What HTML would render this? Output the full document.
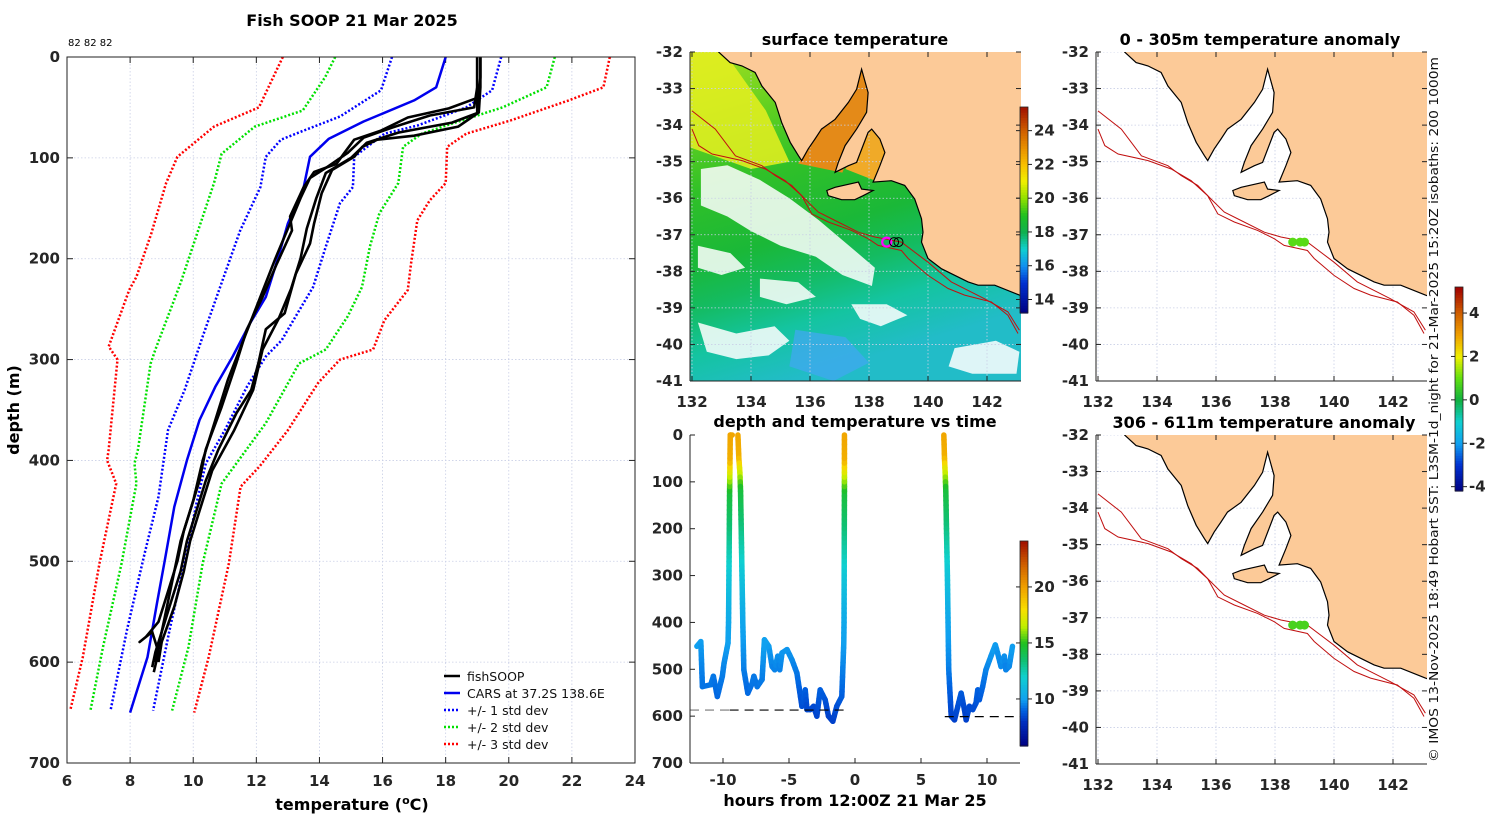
<!DOCTYPE html>
<html><head><meta charset="utf-8">
<style>
html,body{margin:0;padding:0;background:#fff;}
svg{display:block;font-family:"DejaVu Sans","Liberation Sans",sans-serif;}
.tl{font-size:15px;font-weight:bold;fill:#262626;}
.tt{font-size:16px;font-weight:bold;fill:#000;}
</style></head>
<body>
<svg id="fig" width="1500" height="820" viewBox="0 0 1500 820" xmlns="http://www.w3.org/2000/svg"></svg>
<script>
// ---------- DATA ----------
const tempTicks=[6,8,10,12,14,16,18,20,22,24];
const depthTicks=[0,100,200,300,400,500,600,700];
const carsDepth=[0,30,43,64,81,99,129,165,198,238,264,297,327,360,400,446,499,542,595,650];
const carsTemp=[18.0,17.7,17.0,15.4,14.3,13.7,13.5,13.0,12.7,12.3,11.8,11.25,10.7,10.2,9.8,9.4,9.1,8.85,8.55,8.0];
const sd1pD=[0,33,50,68,76,99,129,145,188,228,257,281,297,327,370,403,443,509,568,648];
const sd1pT=[19.76,19.47,18.65,17.1,16.06,15.1,15.06,14.65,14.2,13.8,13.25,12.8,12.3,11.7,11.0,10.4,10.1,9.67,9.25,8.73];
const sd1mD=[0,33,59,73,82,99,129,172,224,277,330,370,436,496,568,648];
const sd1mT=[16.3,15.95,14.65,13.5,12.78,12.3,12.13,11.49,10.9,10.3,9.73,9.2,8.9,8.43,7.9,7.38];
const sd2pD=[0,30,50,66,76,89,125,155,188,228,257,290,304,363,423,502,585,648];
const sd2pT=[21.46,21.2,19.8,18.2,17.24,16.65,16.5,15.9,15.6,15.35,14.9,14.2,13.35,12.3,10.9,10.3,9.85,9.33];
const sd2mD=[0,20,53,69,96,125,168,224,290,304,389,403,423,502,585,648];
const sd2mT=[14.5,14.18,13.47,11.95,10.9,10.66,10.2,9.6,8.8,8.65,8.25,8.14,8.2,7.73,7.14,6.74];
const sd3pD=[0,30,43,63,76,89,125,142,162,205,231,261,290,300,323,370,406,426,502,595,650];
const sd3pT=[23.2,23.0,21.9,20.05,18.65,18.05,18.0,17.5,17.1,16.9,16.8,16.06,15.7,14.65,13.96,13.0,12.1,11.5,11.13,10.49,10.03];
const sd3mD=[0,50,69,99,125,175,218,231,287,300,389,400,423,502,595,648];
const sd3mT=[12.84,12.08,10.66,9.5,9.14,8.67,8.2,7.97,7.32,7.6,7.32,7.27,7.56,7.03,6.5,6.1];
const profAD=[0,20,40,51,60,73,82,96,106,114,129,158,172,205,238,270,303,347,389,420,450,480,510,540,570,590,605];
const profAT=[19.1,19.1,19.05,18.1,16.8,15.95,15.1,14.77,14.54,13.83,13.5,13.07,13.13,12.65,12.2,11.7,11.37,10.9,10.4,10.2,9.9,9.6,9.4,9.2,9.0,8.8,8.7];
const profBD=[0,20,40,56,69,78,82,89,99,112,135,165,185,215,254,270,303,330,353,389,420,450,480,510,540,570,600];
const profBT=[19.0,19.0,19.0,19.0,18.4,17.0,15.83,15.36,15.1,14.4,14.07,13.83,13.7,13.25,12.9,12.3,12.07,11.84,11.37,10.8,10.4,10.1,9.8,9.6,9.3,9.0,8.8];
const profCD=[0,30,50,58,70,80,95,110,120,140,170,200,240,280,320,360,400,440,470,500,530,560,575,580,570,590,610];
const profCT=[19.0,19.0,18.9,17.5,16.3,15.4,14.9,14.2,13.7,13.4,13.0,12.6,12.1,11.6,11.1,10.7,10.3,10.0,9.7,9.5,9.2,8.9,8.5,8.3,8.7,8.9,8.75];
const profDD=[0,30,55,65,75,85,100,115,140,170,200,230,260,290,330,370,410,450,480,510,545,580,600];
const profDT=[19.1,19.1,19.05,18.2,16.5,15.5,15.0,14.2,13.9,13.6,13.4,13.1,12.7,12.2,11.9,11.3,10.6,10.2,9.9,9.7,9.4,9.0,8.9];

// time series (hours, depth, temperature) per segment
const seg1H=[-11.98,-11.68,-11.56,-10.93,-10.73,-10.43,-10.05,-9.92,-9.62,-9.58,-9.55,-9.52,-9.5,-9.48,-9.47,-9.45,-9.3];
const seg1D=[451,441,537,533,515,558,515,487,444,400,300,200,120,80,50,0,0];
const seg1T=[10.0,10.0,9.3,9.3,9.4,9.1,9.4,9.6,10.0,10.3,11.5,13.3,14.5,17.0,19.5,19.8,19.8];
const seg2H=[-8.87,-8.8,-8.72,-8.67,-8.62,-8.56,-8.5,-8.42,-8.12,-7.79,-7.66,-7.41,-7.04,-6.86,-6.53,-6.28,-6.08,-5.85,-5.7,-5.53,-5.15,-4.77,-4.4,-4.02,-3.77,-3.64,-3.39,-3.14,-2.89,-2.64,-2.26,-2.01,-1.68,-1.38,-1.0,-0.85,-0.83,-0.82,-0.81,-0.8,-0.8,-0.8,-0.8];
const seg2D=[0,50,80,120,200,300,400,501,551,530,515,537,522,437,451,494,501,472,501,465,458,480,508,579,544,586,586,579,600,544,565,600,611,579,558,444,400,300,200,120,80,50,0];
const seg2T=[19.8,19.5,17.0,14.5,13.3,11.5,10.3,9.5,9.1,9.3,9.4,9.3,9.4,10.1,10.0,9.6,9.5,9.8,9.5,9.8,9.9,9.7,9.4,8.6,9.0,8.5,8.5,8.6,8.4,9.0,8.8,8.4,8.3,8.6,8.9,10.0,10.3,11.5,13.3,14.5,17.0,19.5,19.8];
const seg3H=[6.73,6.78,6.83,6.88,6.93,7.0,7.05,7.1,7.29,7.54,7.79,8.04,8.29,8.42,8.67,8.92,9.17,9.3,9.42,9.67,9.92,10.3,10.63,10.8,11.06,11.31,11.43,11.68,11.93];
const seg3D=[0,50,80,120,200,300,400,500,600,608,579,551,586,608,579,586,572,544,565,537,501,472,448,465,494,472,501,494,451];
const seg3T=[19.8,19.5,17.0,14.5,13.3,11.5,10.3,9.5,8.4,8.3,8.6,8.9,8.5,8.3,8.6,8.5,8.7,9.0,8.8,9.1,9.5,9.8,10.0,9.8,9.6,9.8,9.5,9.6,10.0];
const bottomStartH=[-12.7,-9.5,6.8];
const bottomEndH=[-9.5,-0.8,12.5];
const bottomDepth=[587,587,601];
const hourTicks=[-10,-5,0,5,10];

const lonTicks=[132,134,136,138,140,142];
const latTicks=[-32,-33,-34,-35,-36,-37,-38,-39,-40,-41];
const sstTicks=[14,16,18,20,22,24];
const anomTicks=[-4,-2,0,2,4];
const tsTicks=[10,15,20];
const stationLon=[138.6,138.85,139.0];
const stationLat=[-37.2,-37.2,-37.2];
const anomTop=[0.9,0.9,0.9];
const anomBot=[0.7,0.7,0.7];

const coast=[[132.9,-31.9],[132.9,-32.0],[133.29,-32.29],[133.69,-32.38],[134.14,-32.56],[134.37,-32.93],[134.82,-33.38],[135.04,-33.93],[135.33,-34.47],[135.61,-34.84],[135.72,-34.97],[135.94,-34.65],[136.17,-34.38],[136.39,-34.11],[136.85,-33.84],[137.3,-33.38],[137.58,-33.02],[137.75,-32.47],[137.97,-33.11],[137.92,-33.65],[137.58,-34.11],[137.19,-34.56],[136.96,-35.02],[136.85,-35.29],[137.3,-35.11],[137.58,-35.02],[137.97,-34.2],[138.09,-34.11],[138.37,-34.38],[138.54,-34.75],[138.37,-35.11],[138.14,-35.56],[138.76,-35.52],[139.21,-35.65],[139.55,-36.02],[139.78,-36.56],[139.83,-36.93],[139.78,-37.2],[140.0,-37.65],[140.46,-37.93],[141.36,-38.29],[141.7,-38.38],[142.26,-38.38],[143.1,-38.65],[143.3,-38.7],[143.3,-31.9]];
const kangaroo=[[136.57,-35.79],[136.85,-35.7],[137.64,-35.56],[137.75,-35.75],[138.14,-35.79],[137.8,-35.93],[137.52,-36.04],[137.07,-36.04],[136.62,-35.93]];
const iso200=[[132,-33.61],[132.79,-34.11],[133.47,-34.84],[134.37,-35.11],[134.82,-35.38],[135.38,-35.65],[135.83,-36.02],[136.28,-36.38],[136.85,-36.61],[137.64,-36.93],[138.2,-37.06],[139.1,-37.2],[140.0,-37.75],[140.79,-38.29],[141.92,-38.75],[142.71,-39.11],[143.1,-39.61]];
const iso1000=[[132,-34.11],[132.23,-34.56],[132.68,-34.79],[133.7,-34.97],[134.48,-35.2],[135.16,-35.52],[135.72,-35.93],[136.06,-36.43],[136.62,-36.65],[137.41,-36.88],[137.98,-37.11],[138.31,-37.29],[139.1,-37.43],[139.33,-37.65],[140.0,-38.11],[140.68,-38.47],[141.24,-38.65],[142.15,-38.84],[142.71,-39.2],[143.05,-39.7]];
const clouds=[
 [[132.3,-35.2],[133.2,-35.1],[134.3,-35.5],[135.3,-36.0],[136.3,-36.6],[137.4,-37.35],[138.2,-37.9],[138.1,-38.4],[137.1,-38.1],[136.2,-37.6],[135.0,-37.3],[134.0,-36.9],[133.2,-36.5],[132.3,-36.2]],
 [[132.2,-37.3],[133.3,-37.5],[133.8,-37.9],[133.0,-38.1],[132.2,-37.9]],
 [[132.2,-39.4],[133.5,-39.7],[134.8,-39.5],[135.3,-39.9],[134.6,-40.3],[133.5,-40.4],[132.5,-40.2]],
 [[137.4,-38.9],[138.6,-38.9],[139.3,-39.2],[138.4,-39.5],[137.7,-39.3]],
 [[140.9,-40.1],[142.3,-39.9],[143.1,-40.2],[143.0,-40.8],[141.5,-40.8],[140.7,-40.6]],
 [[134.3,-38.2],[135.6,-38.3],[136.2,-38.7],[135.2,-38.9],[134.3,-38.7]]
];
const spencer=[[135.6,-35.05],[137.7,-32.3],[138.2,-33.0],[137.1,-35.3]];
const stVincent=[[137.2,-35.2],[138.1,-33.95],[138.75,-34.7],[138.3,-35.55]];

// colormap stop values and colours
const sstStopV=[13.2,15,16,17,18,19,20,21,22,23,24,25.4];
const sstStopC=['#000080','#0030d0','#1090f0','#10d0d0','#10b050','#20c020','#90e000','#f0f000','#f8c000','#e89000','#d06000','#a01000'];
const tsStopV=[5.8,8,9,10,12,13.5,15,16.5,18,20,22,24.1];
const tsStopC=['#000080','#0030c0','#0060e0','#10a0f0','#10d0d0','#10c070','#20c020','#c0f000','#f8e000','#f0a000','#d06000','#a01000'];
const anStopV=[-4.2,-3,-2,-1,0,1,2,3,4,5.2];
const anStopC=['#000080','#0030d0','#10a0f0','#10d0d0','#10b040','#60e010','#f0f000','#f0a000','#d06000','#a00000'];

// ---------- HELPERS ----------
const NS='http://www.w3.org/2000/svg';
const svg=document.getElementById('fig');
function mk(tag,attrs,parent,txt){const e=document.createElementNS(NS,tag);for(const k in attrs)e.setAttribute(k,attrs[k]);if(txt!==undefined)e.textContent=txt;(parent||svg).appendChild(e);return e;}
function grp(name){const g=mk('g',{});return g;}
function hex(c){return [parseInt(c.substr(1,2),16),parseInt(c.substr(3,2),16),parseInt(c.substr(5,2),16)];}
function cmap(v,SV,SC){if(v<=SV[0])return SC[0];if(v>=SV[SV.length-1])return SC[SC.length-1];
 for(let i=0;i<SV.length-1;i++){if(v<=SV[i+1]){const f=(v-SV[i])/(SV[i+1]-SV[i]);const a=hex(SC[i]),b=hex(SC[i+1]);return 'rgb('+a.map((x,k)=>Math.round(x+(b[k]-x)*f)).join(',')+')';}}}
function colorbar(name,x,y0,y1,SV,SC,ticks){
 const g=grp(name);const n=80;const vmin=SV[0],vmax=SV[SV.length-1];
 for(let i=0;i<n;i++){const yy=y1-(i+1)*(y1-y0)/n;const r=mk('rect',{x:x,y:yy,width:8,height:(y1-y0)/n+0.6,fill:cmap(vmin+(i+0.5)/n*(vmax-vmin),SV,SC)},g);}
 mk('rect',{x:x,y:y0,width:8,height:y1-y0,fill:'none',stroke:'#222','stroke-width':0.8},g);
 ticks.forEach(t=>{const yy=y1-(t-vmin)/(vmax-vmin)*(y1-y0);mk('line',{x1:x+8,x2:x+12,y1:yy,y2:yy,stroke:'#222'},g);mk('line',{x1:x-4,x2:x,y1:yy,y2:yy,stroke:'#222'},g);
  const tx=mk('text',{x:x+14,y:yy+5,class:'tl','font-size':'13'},g,String(t));});
}

// ---------- LEFT PROFILE PLOT ----------
const LX0=67,LX1=635,LY0=57,LY1=763;
const tx=t=>LX0+(t-6)/18*(LX1-LX0);
const dy=d=>LY0+d/700*(LY1-LY0);
(function(){
 const g=grp('profile-plot');
 const t1=mk('text',{x:352,y:26,class:'tt','text-anchor':'middle'},g,'Fish SOOP 21 Mar 2025');
 const t2=mk('text',{x:68,y:46,'font-size':'10',fill:'#000'},g,'82 82 82');
 tempTicks.forEach(t=>{mk('line',{x1:tx(t),x2:tx(t),y1:LY0,y2:LY1,stroke:'#c9cfe6','stroke-width':0.8,'stroke-dasharray':'1.5,2'},g);
  mk('line',{x1:tx(t),x2:tx(t),y1:LY0,y2:LY0+6,stroke:'#222'},g);mk('line',{x1:tx(t),x2:tx(t),y1:LY1,y2:LY1-6,stroke:'#222'},g);
  const l=mk('text',{x:tx(t),y:LY1+23,class:'tl','text-anchor':'middle'},g,String(t));});
 depthTicks.forEach(d=>{mk('line',{x1:LX0,x2:LX1,y1:dy(d),y2:dy(d),stroke:'#c9cfe6','stroke-width':0.8,'stroke-dasharray':'1.5,2'},g);
  mk('line',{x1:LX0,x2:LX0+6,y1:dy(d),y2:dy(d),stroke:'#222'},g);mk('line',{x1:LX1,x2:LX1-6,y1:dy(d),y2:dy(d),stroke:'#222'},g);
  const l=mk('text',{x:LX0-7,y:dy(d)+5,class:'tl','text-anchor':'end'},g,String(d));});
 function line(D,T,col,w,dash,name){const p=mk('polyline',{points:D.map((d,i)=>tx(T[i]).toFixed(1)+','+dy(d).toFixed(1)).join(' '),fill:'none',stroke:col,'stroke-width':w,'stroke-dasharray':dash||'none','stroke-linejoin':'round'},g);}
 line(sd3mD,sd3mT,'#ff0000',2.5,'2,2','minus-3-std-line');line(sd3pD,sd3pT,'#ff0000',2.5,'2,2','plus-3-std-line');
 line(sd2mD,sd2mT,'#00e000',2.5,'2,2','minus-2-std-line');line(sd2pD,sd2pT,'#00e000',2.5,'2,2','plus-2-std-line');
 line(sd1mD,sd1mT,'#0000ff',2.5,'2,2','minus-1-std-line');line(sd1pD,sd1pT,'#0000ff',2.5,'2,2','plus-1-std-line');
 line(carsDepth,carsTemp,'#0000ee',2.5,null,'cars-mean-line');
 line(profAD,profAT,'#000',2.6,null,'fishsoop-profile-a');line(profBD,profBT,'#000',2.6,null,'fishsoop-profile-b');
 line(profCD,profCT,'#000',2.6,null,'fishsoop-profile-c');line(profDD,profDT,'#000',2.6,null,'fishsoop-profile-d');
 mk('rect',{x:LX0,y:LY0,width:LX1-LX0,height:LY1-LY0,fill:'none',stroke:'#222','stroke-width':1},g);
 const yl=mk('text',{x:0,y:0,class:'tt',transform:'translate(19,410) rotate(-90)','text-anchor':'middle'},g,'depth (m)');
 const xl=mk('text',{x:352,y:810,class:'tt','text-anchor':'middle'},g);
 xl.innerHTML='temperature (<tspan dy="-6" font-size="11">o</tspan><tspan dy="6">C)</tspan>';
 const leg=grp('legend');g.appendChild(leg);
 const items=[['fishSOOP','#000',null],['CARS at 37.2S 138.6E','#0000ee',null],['+/- 1 std dev','#0000ff','2,2'],['+/- 2 std dev','#00e000','2,2'],['+/- 3 std dev','#ff0000','2,2']];
 const ly=[676,693,710,727,744];
 items.forEach((it,i)=>{mk('line',{x1:444,x2:460,y1:ly[i],y2:ly[i],stroke:it[1],'stroke-width':2.5,'stroke-dasharray':it[2]||'none'},leg);
  const t=mk('text',{x:467,y:ly[i]+5,'font-size':'12.5',fill:'#111'},leg,it[0]);});
})();

// ---------- MAPS ----------
function mapAxes(name,X0,Y0,title,titleX,isSST,anomVals){
 const W=331,H=329;
 const lx=l=>X0+2+29.5*(l-132);
 const ly=a=>Y0+(-32-a)/9*H;
 const g=grp(name);
 const cid=name+'-clip';
 const cp=mk('clipPath',{id:cid},g);mk('rect',{x:X0,y:Y0,width:W,height:H},cp);
 const inner=mk('g',{'clip-path':'url(#'+cid+')'},g);
 const pts=arr=>arr.map(p=>lx(p[0]).toFixed(1)+','+ly(p[1]).toFixed(1)).join(' ');
 if(isSST){
  const gid=name+'-grad';const defs=mk('defs',{},g);const lg=mk('linearGradient',{id:gid,x1:0,y1:0,x2:0.3,y2:1},defs);
  [[0,'#a8e020'],[0.22,'#60d020'],[0.4,'#30c028'],[0.6,'#1ab838'],[0.72,'#14bb60'],[0.85,'#14c4a0'],[1,'#22bcc8']].forEach(s=>mk('stop',{offset:s[0],'stop-color':s[1]},lg));
  const r=mk('rect',{x:X0,y:Y0,width:W,height:H,fill:'url(#'+gid+')'},inner);
  mk('polygon',{points:pts([[131.9,-31.9],[133.0,-31.9],[134.5,-33.6],[135.3,-35.0],[134,-35.2],[131.9,-34.6]]),fill:'#e8f020',opacity:0.85},inner);
  mk('polygon',{points:pts([[135.5,-39.6],[137.2,-39.8],[138,-40.5],[136.8,-41],[135.3,-40.6]]),fill:'#40a8f0',opacity:0.75},inner);
  clouds.forEach(c=>{const p=mk('polygon',{points:pts(c),fill:'#fff',opacity:0.85},inner);});
  mk('polygon',{points:pts(spencer),fill:'#e48a18'},inner);
  mk('polygon',{points:pts(stVincent),fill:'#f0aa28'},inner);
 }
 lonTicks.forEach(l=>mk('line',{x1:lx(l),x2:lx(l),y1:Y0,y2:Y0+H,stroke:'#c9cfe6','stroke-width':0.8,'stroke-dasharray':'1.5,2'},inner));
 latTicks.forEach(a=>mk('line',{x1:X0,x2:X0+W,y1:ly(a),y2:ly(a),stroke:'#c9cfe6','stroke-width':0.8,'stroke-dasharray':'1.5,2'},inner));
 const land=mk('polygon',{points:pts(coast),fill:'#fcca98',stroke:'#000','stroke-width':1.2},inner);
 const ki=mk('polygon',{points:pts(kangaroo),fill:'#fcca98',stroke:'#000','stroke-width':1.2},inner);
 [iso200,iso1000].forEach((iso,i)=>{const p=mk('polyline',{points:pts(iso),fill:'none',stroke:'#c01010','stroke-width':1},inner);});
 if(isSST){
  stationLon.forEach((l,i)=>{const c=mk('circle',{cx:lx(l),cy:ly(stationLat[i]),r:4.5,fill:'none',stroke:i?'#000':'#ff00ff','stroke-width':i?1:2.2},inner);});
 } else {
  stationLon.forEach((l,i)=>{const c=mk('circle',{cx:lx(l),cy:ly(stationLat[i]),r:4.5,fill:cmap(anomVals[i],anStopV,anStopC)},inner);});
 }
 lonTicks.forEach(l=>{mk('line',{x1:lx(l),x2:lx(l),y1:Y0+H,y2:Y0+H-5,stroke:'#222'},g);mk('line',{x1:lx(l),x2:lx(l),y1:Y0,y2:Y0+5,stroke:'#222'},g);
  const t=mk('text',{x:lx(l),y:Y0+H+26,class:'tl','text-anchor':'middle'},g,String(l));});
 latTicks.forEach(a=>{mk('line',{x1:X0,x2:X0+5,y1:ly(a),y2:ly(a),stroke:'#222'},g);mk('line',{x1:X0+W,x2:X0+W-5,y1:ly(a),y2:ly(a),stroke:'#222'},g);
  const t=mk('text',{x:X0-7,y:ly(a)+5,class:'tl','text-anchor':'end'},g,String(a));});
 mk('line',{x1:X0,x2:X0,y1:Y0,y2:Y0+H,stroke:'#222'},g);mk('line',{x1:X0,x2:X0+W,y1:Y0+H,y2:Y0+H,stroke:'#222'},g);
 const tt=mk('text',{x:titleX,y:Y0-7,class:'tt','text-anchor':'middle'},g,title);
}
mapAxes('sst-map',690,52,'surface temperature',855,true);
mapAxes('anomaly-map-0-305m',1096,52,'0 - 305m temperature anomaly',1260,false,anomTop);
mapAxes('anomaly-map-306-611m',1096,435,'306 - 611m temperature anomaly',1264,false,anomBot);
colorbar('sst-colorbar',1020,107,313,sstStopV,sstStopC,sstTicks);
colorbar('anomaly-colorbar',1455,287,491,anStopV,anStopC,anomTicks);

// ---------- TIME SERIES ----------
(function(){
 const X0=690,X1=1020,Y0=435,Y1=763;
 const hx=h=>855+13.2*h;
 const yd=d=>Y0+d/700*(Y1-Y0);
 const g=grp('depth-time-plot');
 [[seg1H,seg1D,seg1T],[seg2H,seg2D,seg2T],[seg3H,seg3D,seg3T]].forEach(s=>{
  for(let i=0;i<s[0].length-1;i++){
   const steps=Math.max(1,Math.round(Math.abs(s[1][i+1]-s[1][i])/10));
   for(let k=0;k<steps;k++){const f0=k/steps,f1=(k+1)/steps;
    const h0=s[0][i]+(s[0][i+1]-s[0][i])*f0,h1=s[0][i]+(s[0][i+1]-s[0][i])*f1;
    const d0=s[1][i]+(s[1][i+1]-s[1][i])*f0,d1=s[1][i]+(s[1][i+1]-s[1][i])*f1;
    const tm=s[2][i]+(s[2][i+1]-s[2][i])*(f0+f1)/2;
    const l=mk('line',{x1:hx(h0),y1:yd(d0),x2:hx(h1),y2:yd(d1),stroke:cmap(tm,tsStopV,tsStopC),'stroke-width':5.5,'stroke-linecap':'round'},g);
    
    }
  }
 });
 bottomStartH.forEach((h,i)=>{const l=mk('line',{x1:Math.max(X0,hx(h)),x2:Math.min(X1,hx(bottomEndH[i])),y1:yd(bottomDepth[i]),y2:yd(bottomDepth[i]),stroke:i===0?'#777':'#000','stroke-width':1.2,'stroke-dasharray':'9,6'},g);
  });
 mk('line',{x1:X0,x2:X0,y1:Y0,y2:Y1,stroke:'#222'},g);mk('line',{x1:X0,x2:X1,y1:Y1,y2:Y1,stroke:'#222'},g);
 depthTicks.forEach(d=>{mk('line',{x1:X0,x2:X0+5,y1:yd(d),y2:yd(d),stroke:'#222'},g);
  const t=mk('text',{x:X0-7,y:yd(d)+5,class:'tl','text-anchor':'end'},g,String(d));});
 hourTicks.forEach(h=>{mk('line',{x1:hx(h),x2:hx(h),y1:Y1,y2:Y1-5,stroke:'#222'},g);
  const t=mk('text',{x:hx(h),y:Y1+22,class:'tl','text-anchor':'middle'},g,String(h));});
 const tt=mk('text',{x:855,y:427,class:'tt','text-anchor':'middle'},g,'depth and temperature vs time');
 const xl=mk('text',{x:855,y:806,class:'tt','text-anchor':'middle'},g,'hours from 12:00Z 21 Mar 25');
})();
colorbar('track-temp-colorbar',1020,541,746,tsStopV,tsStopC,tsTicks);

// credit
const cr=mk('text',{x:0,y:0,transform:'translate(1438,762) rotate(-90)','font-size':'12.5',fill:'#111',textLength:705,lengthAdjust:'spacingAndGlyphs'},svg,'\u00a9 IMOS 13-Nov-2025 18:49 Hobart SST: L3SM-1d_night for 21-Mar-2025 15:20Z isobaths: 200  1000m');


</script>
</body></html>
